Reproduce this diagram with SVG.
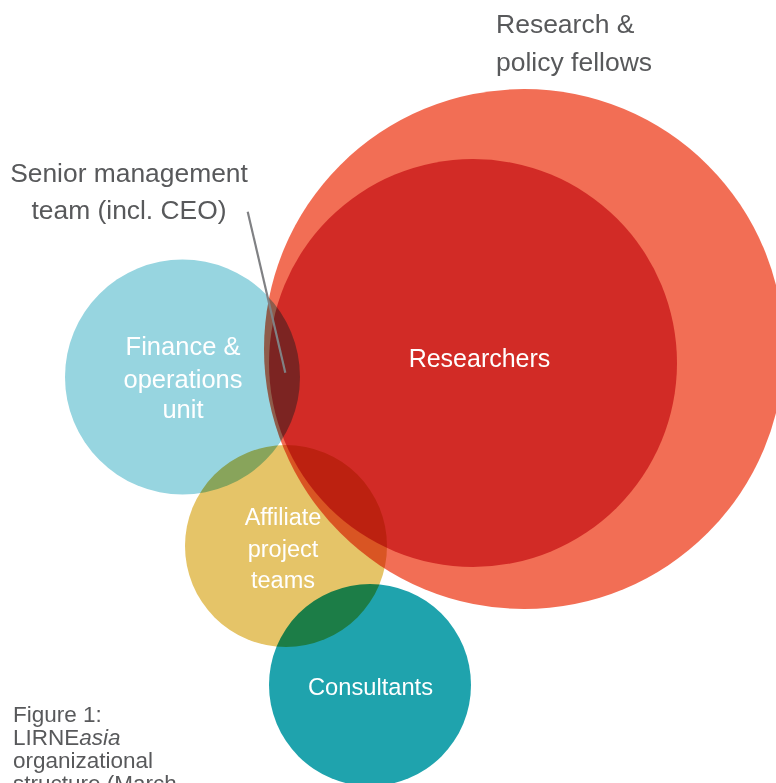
<svg xmlns="http://www.w3.org/2000/svg" width="776" height="783" viewBox="0 0 776 783">
  <style>
    .lbl { font-family: "Liberation Sans", Arial, sans-serif; fill: #58595B; }
    .in { font-family: "Liberation Sans", Arial, sans-serif; fill: #FFFFFF; text-anchor: middle; }
    .mul { mix-blend-mode: multiply; }
  </style>
  <rect x="0" y="0" width="776" height="783" fill="#FFFFFF"/>
  <g id="fellows">
    <circle cx="524" cy="349" r="260" fill="#F26E55"/>
    <text class="lbl" x="496" y="33" font-size="26.5">Research &amp;</text>
    <text class="lbl" x="496" y="71" font-size="26.5">policy fellows</text>
  </g>
  <g id="researchers">
    <circle cx="473" cy="363" r="204" fill="#D22B26"/>
  </g>
  <g id="finance">
    <circle class="mul" cx="182.5" cy="377" r="117.5" fill="#97D5E0"/>
  </g>
  <g id="affiliate">
    <circle class="mul" cx="286" cy="546" r="101" fill="#E5C468"/>
  </g>
  <g id="consultants">
    <circle class="mul" cx="370" cy="685" r="101" fill="#1FA3AD"/>
  </g>
  <g id="connectors">
    <line x1="247.7" y1="211.7" x2="285.3" y2="372.7" stroke="#808184" stroke-width="2.2"/>
  </g>
  <g id="senior-management">
    <text class="lbl" x="129" y="182" font-size="26.4" text-anchor="middle">Senior management</text>
    <text class="lbl" x="129" y="219" font-size="26.4" text-anchor="middle">team (incl. CEO)</text>
  </g>
  <g id="labels">
    <text class="in" x="479.5" y="367" font-size="25">Researchers</text>
    <text class="in" x="183" y="355" font-size="25.5">Finance &amp;</text>
    <text class="in" x="183" y="388" font-size="25.5">operations</text>
    <text class="in" x="183" y="418" font-size="25.5">unit</text>
    <text class="in" x="283" y="525" font-size="23.5">Affiliate</text>
    <text class="in" x="283" y="557" font-size="23.5">project</text>
    <text class="in" x="283" y="588" font-size="23.5">teams</text>
    <text class="in" x="370.5" y="695" font-size="23.7">Consultants</text>
  </g>
  <g id="caption">
    <text class="lbl" x="13" y="722" font-size="22.5">Figure 1:</text>
    <text class="lbl" x="13" y="745" font-size="22.5">LIRNE<tspan font-style="italic">asia</tspan></text>
    <text class="lbl" x="13" y="768" font-size="22.5">organizational</text>
    <text class="lbl" x="13" y="791" font-size="22.5">structure (March</text>
  </g>
</svg>
